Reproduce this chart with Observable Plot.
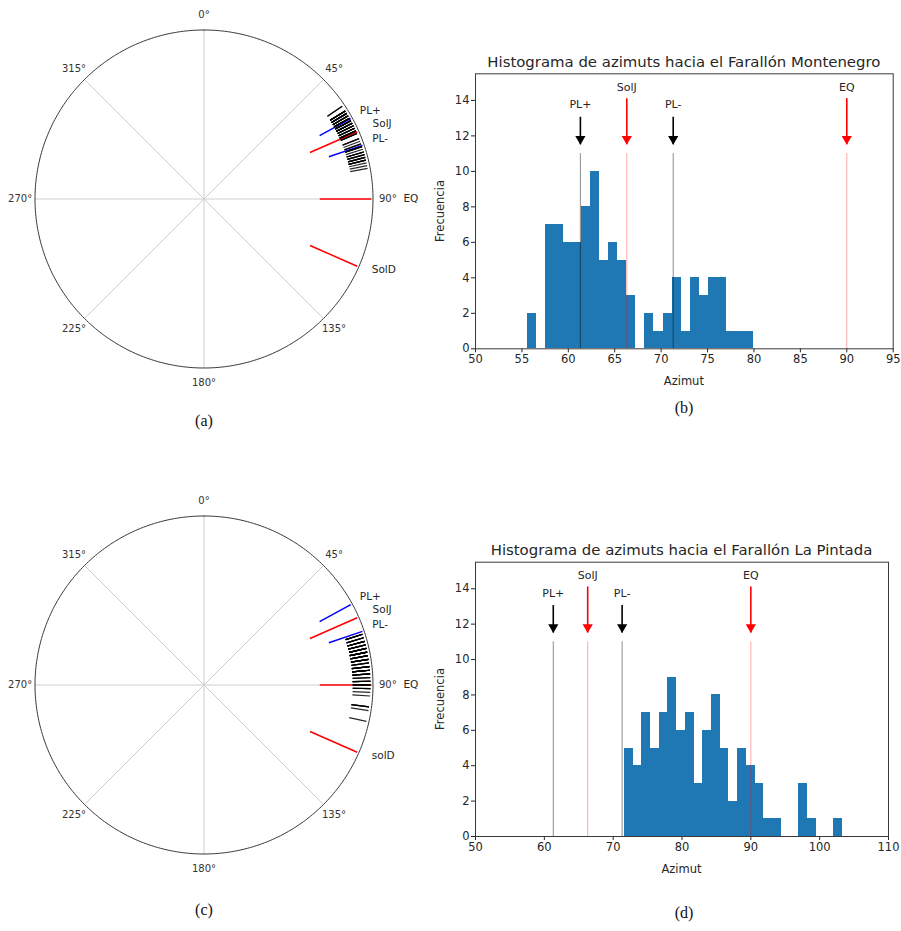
<!DOCTYPE html>
<html><head><meta charset="utf-8">
<script src="https://cdn.jsdelivr.net/npm/d3@7"></script>
<script src="https://cdn.jsdelivr.net/npm/@observablehq/plot@0.6"></script>
<style>
body{margin:0;background:#fff;}
#fig{position:relative;width:901px;height:931px;overflow:hidden;font-family:"DejaVu Sans",sans-serif;color:#262626;}
.panel{position:absolute;}
.cap{position:absolute;font-family:"Liberation Serif","Times New Roman",serif;font-size:16px;color:#111;transform:translate(-50%,-50%);}
.title{position:absolute;font-size:14.9px;color:#262626;transform:translate(-50%,-50%);white-space:nowrap;}
.xl{position:absolute;font-size:11.5px;transform:translate(-50%,-50%);white-space:nowrap;}
.yl{position:absolute;font-size:11.5px;transform:translate(-50%,-50%) rotate(-90deg);white-space:nowrap;}
</style></head><body><div id="fig"></div>
<script>
// ---------- data ----------
const markerNames = ["PL+", "SolJ", "PL-", "EQ"];
const markerAz = [61.3, 66.3, 71.3, 90];
const markerKind = ["luna", "sol", "luna", "sol"];
const solDAz = 113.7;
const angleTicks = [0, 45, 90, 135, 180, 225, 270, 315];

// histogram: Farallón Montenegro (25 bins)
const montenegroCounts = [2,0,7,7,6,6,8,10,5,6,5,3,0,2,1,2,4,1,4,3,4,4,1,1,1];
const montenegroRange = [55.65, 79.9];
const montenegroXTicks = [50,55,60,65,70,75,80,85,90,95];
// histogram: Farallón La Pintada (25 bins)
const pintadaCounts = [5,4,7,5,7,9,6,7,3,6,8,5,2,5,4,3,1,1,0,0,3,1,0,0,1];
const pintadaRange = [71.62, 103.28];
const pintadaXTicks = [50,60,70,80,90,100,110];
const yTicks = [0,2,4,6,8,10,12,14];

// ---------- helpers ----------
const fig = document.getElementById("fig");
const rad = d => d * Math.PI / 180;
const kindColor = k => k === "sol" ? "red" : "black";
const polarColor = k => k === "sol" ? "red" : "blue";

function bins(counts, range) {
  const n = counts.length, w = (range[1] - range[0]) / n;
  return counts.map((c, i) => ({x1: range[0] + i * w, x2: range[0] + (i + 1) * w, y: c}));
}
function samples(counts, range) {
  return bins(counts, range).flatMap(b => Array.from({length: b.y}, () => (b.x1 + b.x2) / 2));
}
function addDiv(cls, text, x, y) {
  const d = document.createElement("div");
  d.className = cls; d.textContent = text;
  d.style.left = x + "px"; d.style.top = y + "px";
  fig.appendChild(d);
}

const markers = markerNames.map((name, i) => ({name, az: markerAz[i], kind: markerKind[i]}));

function polar({left, top, width, height, cx, cy, R, counts, range, solDName}) {
  const P = (az, r) => [r * Math.sin(rad(az)), r * Math.cos(rad(az))];
  const az = samples(counts, range);
  const lines = [...markers.map(m => ({az: m.az, kind: m.kind})), {az: solDAz, kind: "sol"}];
  const labels = [
    {t: "PL+", az: 61.4, r: 1.05},
    {t: "SolJ", az: 66.8, r: 1.085},
    {t: "PL-", az: 71.4, r: 1.05},
    {t: "EQ", az: 90.9, r: 1.18},
    {t: solDName, az: 113.8, r: 1.085}
  ];
  const rIn = k => k === "sol" ? 0.685 : 0.78;
  const svg = Plot.plot({
    width, height, margin: 0,
    x: {domain: [-cx / R, (width - cx) / R], axis: null},
    y: {domain: [-(height - cy) / R, cy / R], axis: null},
    style: {fontFamily: "DejaVu Sans", overflow: "visible", background: "transparent"},
    marks: [
      Plot.link(angleTicks, {x1: () => 0, y1: () => 0, x2: d => P(d, 1)[0], y2: d => P(d, 1)[1], stroke: "#cfcfcf", strokeWidth: 1}),
      Plot.line(d3.range(0, 361, 1), {x: d => P(d, 1)[0], y: d => P(d, 1)[1], stroke: "#3a3a3a", strokeWidth: 1}),
      Plot.text(angleTicks, {x: d => P(d, 1.088)[0], y: d => P(d, 1.088)[1], text: d => d + "°", fontSize: 10, fill: "#333"}),
      Plot.link(lines, {x1: d => P(d.az, rIn(d.kind))[0], y1: d => P(d.az, rIn(d.kind))[1], x2: d => P(d.az, 0.99)[0], y2: d => P(d.az, 0.99)[1], stroke: d => polarColor(d.kind), strokeWidth: 1.5}),
      Plot.link(az, {x1: d => P(d, 0.88)[0], y1: d => P(d, 0.88)[1], x2: d => P(d, 0.985)[0], y2: d => P(d, 0.985)[1], stroke: "black", strokeWidth: 1.2, strokeOpacity: 0.85}),
      Plot.text(labels, {x: d => P(d.az, d.r)[0], y: d => P(d.az, d.r)[1], text: "t", textAnchor: "start", lineAnchor: "bottom", fontSize: 10.5, fill: "#262626"})
    ]
  });
  svg.classList.add("panel");
  svg.style.left = left + "px"; svg.style.top = top + "px";
  fig.appendChild(svg);
}

function hist({left, top, width, height, mL, mT, mR, mB, counts, range, xDomain, xTicks, title}) {
  const data = bins(counts, range).filter(d => d.y > 0);
  const textY = k => k === "sol" ? 14.75 : 13.75;
  const arrowTop = k => k === "sol" ? 14.1 : 13.05;
  const svg = Plot.plot({
    width, height, marginLeft: mL, marginTop: mT, marginRight: mR, marginBottom: mB,
    x: {domain: xDomain, ticks: xTicks, tickSize: 4, tickPadding: 2, label: null},
    y: {domain: [0, 15.5], ticks: yTicks, tickSize: 4, tickPadding: 2, label: null},
    style: {fontFamily: "DejaVu Sans", fontSize: "11.5px", color: "#262626", background: "transparent", overflow: "visible"},
    marks: [
      Plot.rectY(data, {x1: "x1", x2: "x2", y: "y", fill: "#1f77b4", shapeRendering: "crispEdges"}),
      Plot.ruleX(markers, {x: "az", y1: 0, y2: 11, stroke: d => kindColor(d.kind), strokeOpacity: d => d.kind === "sol" ? 0.35 : 0.45, strokeWidth: 1}),
      Plot.ruleX(markers, {x: "az", y1: d => arrowTop(d.kind), y2: 11.5, stroke: d => kindColor(d.kind), strokeWidth: 1.6}),
      Plot.dot(markers, {x: "az", y: 11.5, dy: -5.9, symbol: "triangle", rotate: 180, r: 3.8, fill: d => kindColor(d.kind), stroke: "none"}),
      Plot.text(markers, {x: "az", y: d => textY(d.kind), text: "name", fontSize: 11, fill: "#262626"}),
      Plot.frame({stroke: "#3a3a3a"})
    ]
  });
  svg.classList.add("panel");
  svg.style.left = left + "px"; svg.style.top = top + "px";
  fig.appendChild(svg);
  const x0 = left + mL, x1 = left + width - mR, y0 = top + mT, y1 = top + height - mB;
  addDiv("title", title, (x0 + x1) / 2, y0 - 11.5);
  addDiv("xl", "Azimut", (x0 + x1) / 2, y1 + 33);
  addDiv("yl", "Frecuencia", x0 - 35, (y0 + y1) / 2);
}

// ---------- panels ----------
polar({left: 0, top: 0, width: 440, height: 400, cx: 203.5, cy: 198.5, R: 169, counts: montenegroCounts, range: montenegroRange, solDName: "SolD"});
hist({left: 420, top: 40, width: 480, height: 360, mL: 55, mT: 33.3, mR: 7.3, mB: 51.7,
      counts: montenegroCounts, range: montenegroRange, xDomain: [50, 95], xTicks: montenegroXTicks,
      title: "Histograma de azimuts hacia el Farallón Montenegro"});
polar({left: 0, top: 480, width: 440, height: 420, cx: 203.5, cy: 204.5, R: 169, counts: pintadaCounts, range: pintadaRange, solDName: "solD"});
hist({left: 420, top: 528, width: 480, height: 360, mL: 55, mT: 33.7, mR: 12, mB: 52,
      counts: pintadaCounts, range: pintadaRange, xDomain: [50, 110], xTicks: pintadaXTicks,
      title: "Histograma de azimuts hacia el Farallón La Pintada"});

addDiv("cap", "(a)", 204, 421);
addDiv("cap", "(b)", 684, 408);
addDiv("cap", "(c)", 204, 910);
addDiv("cap", "(d)", 684, 913);
</script></body></html>
